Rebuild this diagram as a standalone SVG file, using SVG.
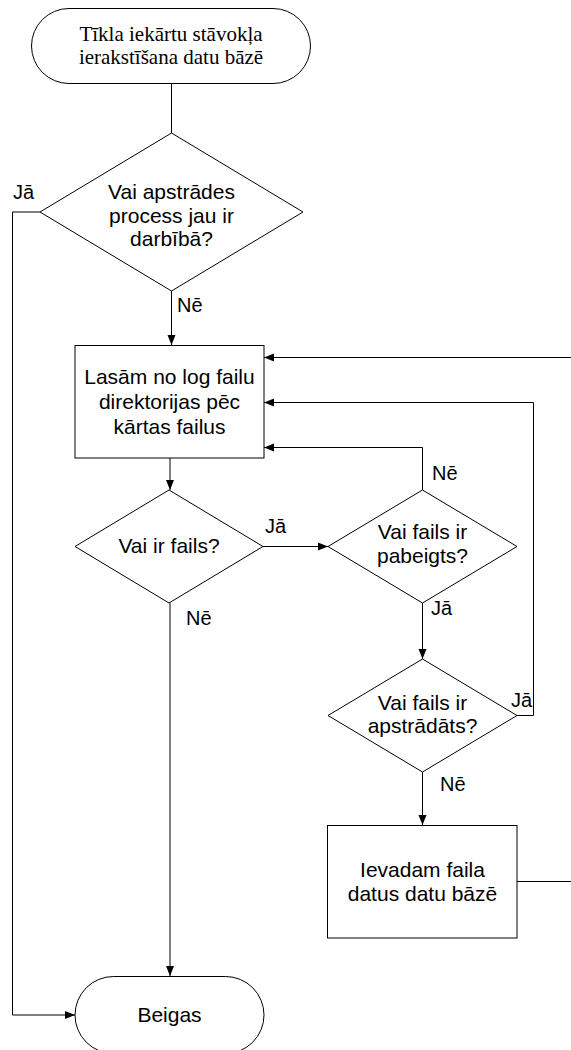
<svg xmlns="http://www.w3.org/2000/svg" width="571" height="1050" viewBox="0 0 571 1050">
<style>
.shape{fill:#fff;stroke:#000;stroke-width:1}
.conn{fill:none;stroke:#000;stroke-width:1}
.t{font-family:"Liberation Sans",Arial,sans-serif;font-size:21px;fill:#000;text-anchor:middle}
.ts{font-family:"Liberation Serif","Times New Roman",serif;font-size:21px;fill:#000;text-anchor:middle}
.lbl{font-family:"Liberation Sans",Arial,sans-serif;font-size:20px;fill:#000}
</style>
<defs>
<marker id="arr" viewBox="0 0 10 10" refX="10" refY="5" markerWidth="10" markerHeight="10" markerUnits="userSpaceOnUse" orient="auto">
<path d="M0,1 L10,5 L0,9 Z" fill="#000"/>
</marker>
</defs>
<rect width="571" height="1050" fill="#fff"/>
<g id="connectors">
<path class="conn" d="M171.5,83 V133"/>
<path class="conn" d="M171.5,291 V345" marker-end="url(#arr)"/>
<path class="conn" d="M40,212 H12.5 V1015 H75" marker-end="url(#arr)"/>
<path class="conn" d="M170,458 V490" marker-end="url(#arr)"/>
<path class="conn" d="M263,546.5 H328" marker-end="url(#arr)"/>
<path class="conn" d="M422.5,490 V447.5 H264" marker-end="url(#arr)"/>
<path class="conn" d="M422.5,603 V659" marker-end="url(#arr)"/>
<path class="conn" d="M517,715.5 H533.5 V402.5 H264" marker-end="url(#arr)"/>
<path class="conn" d="M422.5,772 V825" marker-end="url(#arr)"/>
<path class="conn" d="M517,881.5 H580 V357.5 H264" marker-end="url(#arr)"/>
<path class="conn" d="M170,603 V976" marker-end="url(#arr)"/>
</g>
<g id="start">
<rect class="shape" x="31.5" y="8.5" width="279" height="75" rx="37.5" ry="37.5"/>
<text class="ts" x="171" y="41">Tīkla iekārtu stāvokļa</text>
<text class="ts" x="171" y="64">ierakstīšana datu bāzē</text>
</g>
<g id="d1">
<polygon class="shape" points="171.5,133 303,212 171.5,291 40,212"/>
<text class="t" x="171.5" y="199">Vai apstrādes</text>
<text class="t" x="171.5" y="223">process jau ir</text>
<text class="t" x="171.5" y="246">darbībā?</text>
</g>
<g id="read">
<rect class="shape" x="75" y="345.5" width="189" height="112.5"/>
<text class="t" x="169.5" y="384">Lasām no log failu</text>
<text class="t" x="169.5" y="409">direktorijas pēc</text>
<text class="t" x="169.5" y="434">kārtas failus</text>
</g>
<g id="d2">
<polygon class="shape" points="169,490 263,546.5 169,603 75,546.5"/>
<text class="t" x="169" y="553">Vai ir fails?</text>
</g>
<g id="d3">
<polygon class="shape" points="422.5,490 517,546.5 422.5,603 328,546.5"/>
<text class="t" x="422.5" y="539">Vai fails ir</text>
<text class="t" x="422.5" y="563">pabeigts?</text>
</g>
<g id="d4">
<polygon class="shape" points="422.5,659 517,715.5 422.5,772 328,715.5"/>
<text class="t" x="422.5" y="710">Vai fails ir</text>
<text class="t" x="422.5" y="733">apstrādāts?</text>
</g>
<g id="insert">
<rect class="shape" x="327.5" y="825.5" width="189.5" height="112.5"/>
<text class="t" x="422.5" y="877">Ievadam faila</text>
<text class="t" x="422.5" y="901">datus datu bāzē</text>
</g>
<g id="end">
<rect class="shape" x="75" y="976.5" width="189" height="77" rx="38.5" ry="38.5"/>
<text class="t" x="169.5" y="1022">Beigas</text>
</g>
<g id="labels">
<text class="lbl" x="13" y="199">Jā</text>
<text class="lbl" x="177" y="312">Nē</text>
<text class="lbl" x="265" y="533">Jā</text>
<text class="lbl" x="432" y="480">Nē</text>
<text class="lbl" x="186" y="625">Nē</text>
<text class="lbl" x="431" y="615">Jā</text>
<text class="lbl" x="511" y="707">Jā</text>
<text class="lbl" x="440" y="791">Nē</text>
</g>
</svg>
